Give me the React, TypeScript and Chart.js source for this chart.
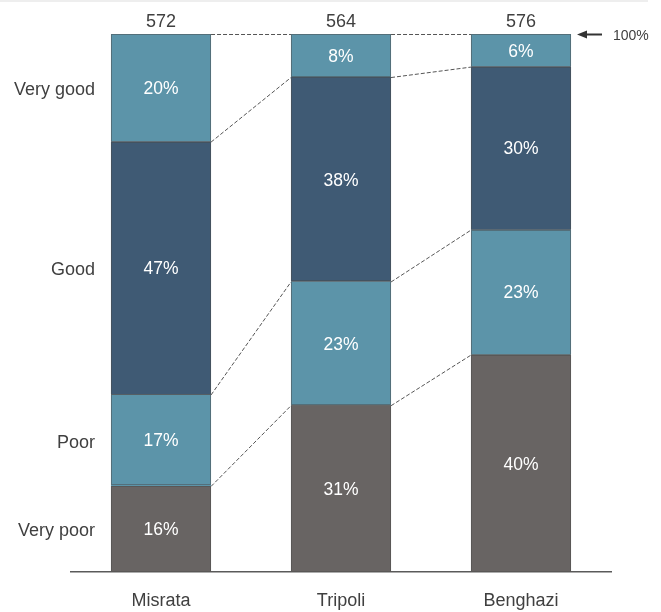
import React, { useEffect, useRef } from 'react';
import { Chart, registerables } from 'chart.js';
Chart.register(...registerables);

const cities = ['Misrata', 'Tripoli', 'Benghazi'];
const sampleSizes = [572, 564, 576];
const levels = ['Very poor', 'Poor', 'Good', 'Very good'];
const veryPoor = [16, 31, 40];
const poor = [17, 23, 23];
const good = [47, 38, 30];
const veryGood = [20, 8, 6];
const levelColors = ['#686463', '#5C94A9', '#3F5A74', '#5C94A9'];
const topMarker = '100%';

const series = [veryPoor, poor, good, veryGood];
const totals = cities.map((_, i) => series.reduce((s, arr) => s + arr[i], 0));

const FONT = "'Liberation Sans', Arial, sans-serif";
const TEXT = '#404040';
const LABEL_SIZE = 18;
const VALUE_SIZE = 17.5;

const annotPlugin = {
  id: 'annot',
  afterDatasetsDraw(chart: any) {
    const ctx = chart.ctx as CanvasRenderingContext2D;
    const area = chart.chartArea;
    const metas = chart.data.datasets.map((_: any, i: number) => chart.getDatasetMeta(i));
    ctx.save();

    // dotted bar outlines
    ctx.setLineDash([1, 1]);
    ctx.strokeStyle = '#4a4a4a';
    ctx.lineWidth = 1;
    metas.forEach((m: any) =>
      m.data.forEach((el: any) => {
        const { x, y, base, width } = el.getProps(['x', 'y', 'base', 'width'], true);
        ctx.strokeRect(Math.round(x - width / 2) + 0.5, Math.round(y) + 0.5, Math.round(width) - 1, Math.round(base - y) - 1);
      })
    );

    // dashed connectors
    ctx.setLineDash([4, 2]);
    ctx.strokeStyle = '#555555';
    metas.forEach((m: any) => {
      for (let i = 0; i < m.data.length - 1; i++) {
        const a = m.data[i].getProps(['x', 'y', 'width'], true);
        const b = m.data[i + 1].getProps(['x', 'y', 'width'], true);
        ctx.beginPath();
        ctx.moveTo(a.x + a.width / 2, a.y + 0.5);
        ctx.lineTo(b.x - b.width / 2, b.y + 0.5);
        ctx.stroke();
      }
    });
    ctx.setLineDash([]);

    // value labels
    ctx.font = `${VALUE_SIZE}px ${FONT}`;
    ctx.textAlign = 'center';
    ctx.textBaseline = 'alphabetic';
    ctx.fillStyle = '#ffffff';
    const vcap = VALUE_SIZE * 0.716;
    metas.forEach((m: any, k: number) =>
      m.data.forEach((el: any, i: number) => {
        const { x, y, base } = el.getProps(['x', 'y', 'base'], true);
        ctx.fillText(`${series[k][i]}%`, x, (y + base) / 2 + vcap / 2);
      })
    );

    // sample sizes above bars
    ctx.font = `${LABEL_SIZE}px ${FONT}`;
    ctx.fillStyle = TEXT;
    const topMeta = metas[metas.length - 1];
    topMeta.data.forEach((el: any, i: number) => {
      const { x, y } = el.getProps(['x', 'y'], true);
      ctx.fillText(String(sampleSizes[i]), x, y - 7);
    });

    // category level labels on the left (aligned to first bar)
    const lcap = LABEL_SIZE * 0.716;
    ctx.textAlign = 'right';
    metas.forEach((m: any, k: number) => {
      const { y, base } = m.data[0].getProps(['y', 'base'], true);
      ctx.fillText(levels[k], area.left + 24, (y + base) / 2 + lcap / 2 + 1);
    });

    // 100% arrow
    const ay = area.top + 0.5;
    const x0 = area.right - 34;
    const x1 = area.right - 9;
    ctx.strokeStyle = '#333333';
    ctx.lineWidth = 2;
    ctx.beginPath();
    ctx.moveTo(x0 + 6, ay);
    ctx.lineTo(x1, ay);
    ctx.stroke();
    ctx.fillStyle = '#333333';
    ctx.beginPath();
    ctx.moveTo(x0, ay);
    ctx.lineTo(x0 + 10, ay - 4);
    ctx.lineTo(x0 + 10, ay + 4);
    ctx.closePath();
    ctx.fill();
    ctx.fillStyle = TEXT;
    ctx.textAlign = 'left';
    ctx.font = `14px ${FONT}`;
    ctx.fillText(topMarker, area.right + 2, ay + (14 * 0.716) / 2);

    ctx.restore();
  },
};

export default function App() {
  const ref = useRef<HTMLCanvasElement | null>(null);
  useEffect(() => {
    if (!ref.current) return;
    const chart = new Chart(ref.current, {
      type: 'bar',
      data: {
        labels: cities,
        datasets: levels.map((lab, k) => ({
          label: lab,
          data: series[k].map((v, i) => (v * 100) / totals[i]),
          backgroundColor: levelColors[k],
          borderWidth: 0,
          barPercentage: 0.556,
          categoryPercentage: 1,
        })),
      },
      options: {
        responsive: false,
        animation: false,
        devicePixelRatio: 1,
        layout: { padding: { left: 71, right: 50, top: 34, bottom: 0 } },
        plugins: { legend: { display: false }, tooltip: { enabled: false } },
        scales: {
          x: {
            stacked: true,
            grid: { display: false, drawTicks: false },
            border: { display: true, color: '#5a5a5a', width: 1.5 },
            ticks: { color: TEXT, font: { family: FONT, size: LABEL_SIZE }, padding: 18 },
            afterFit: (s: any) => {
              s.height = 40;
            },
          },
          y: { stacked: true, min: 0, max: 100, display: false },
        },
      },
      plugins: [annotPlugin],
    } as any);
    return () => chart.destroy();
  }, []);
  return (
    <div style={{ position: 'fixed', left: 0, top: 0, width: 661, height: 612, background: '#ffffff' }}>
      <div style={{ position: 'absolute', left: 0, top: 0, width: 648, height: 2, background: '#eeeeee' }} />
      <canvas ref={ref} width={661} height={612} style={{ width: 661, height: 612, display: 'block' }} />
    </div>
  );
}
